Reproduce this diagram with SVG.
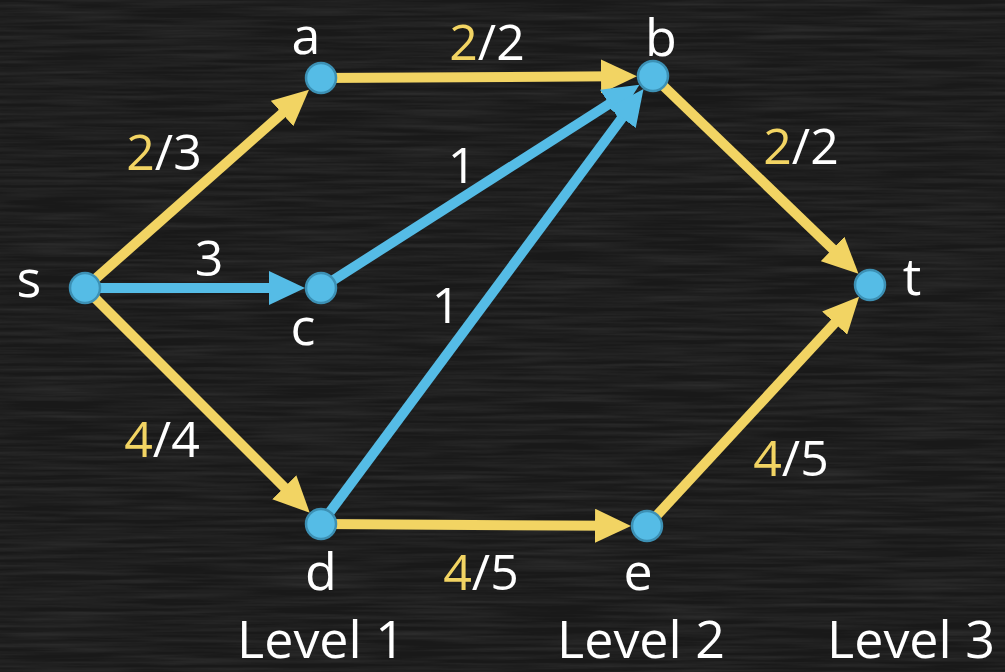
<svg xmlns="http://www.w3.org/2000/svg" width="1005" height="672" viewBox="0 0 1005 672">
  <defs>
    <filter id="chalk" x="0" y="0" width="100%" height="100%">
      <feTurbulence type="fractalNoise" baseFrequency="0.008 0.25" numOctaves="3" seed="7" result="n"/>
      <feColorMatrix in="n" type="matrix" values="0 0 0 0 1  0 0 0 0 1  0 0 0 0 1  0 0 0 0.14 -0.045"/>
    </filter>
    <marker id="arrY" markerUnits="userSpaceOnUse" markerWidth="36" markerHeight="34" refX="16" refY="17" orient="auto">
      <path d="M0,0 L36,17 L0,34 Z" fill="#F2D463"/>
    </marker>
    <marker id="arrB" markerUnits="userSpaceOnUse" markerWidth="36" markerHeight="34" refX="16" refY="17" orient="auto">
      <path d="M0,0 L36,17 L0,34 Z" fill="#55BCE6"/>
    </marker>
    <style>
      .y { stroke: #F2D463; stroke-width: 10; fill: none; marker-end: url(#arrY); }
      .b { stroke: #55BCE6; stroke-width: 10; fill: none; marker-end: url(#arrB); }
      .node { fill: #55BCE6; stroke: #3C90B4; stroke-width: 2.5; }
      text { font-family: "Open Sans", "Noto Sans", "DejaVu Sans", sans-serif; fill: #FFFFFF; font-size: 52px; text-anchor: middle; }
      .lbl { font-size: 50px; }
      .hl { fill: #F2D463; }
      .lvl { font-size: 52px; }
    </style>
  </defs>
  <rect width="1005" height="672" fill="#191919"/>
  <rect width="1005" height="672" filter="url(#chalk)"/>

  <g id="connectors">
    <line class="y" x1="85" y1="288" x2="294" y2="102.9"/>
    <line class="y" x1="321" y1="78" x2="617" y2="76.3"/>
    <line class="b" x1="85" y1="288" x2="285" y2="288"/>
    <line class="b" x1="321" y1="288" x2="622.6" y2="95.4"/>
    <line class="b" x1="321" y1="524" x2="631.6" y2="105"/>
    <line class="y" x1="653" y1="76" x2="844.1" y2="260"/>
    <line class="y" x1="85" y1="288" x2="295.6" y2="498.6"/>
    <line class="y" x1="321" y1="524" x2="611" y2="525.8"/>
    <line class="y" x1="647" y1="526" x2="845.5" y2="311.4"/>
  </g>

  <g id="edge-labels">
    <text class="lbl" x="164" y="170"><tspan class="hl">2</tspan>/3</text>
    <text class="lbl" x="487" y="60"><tspan class="hl">2</tspan>/2</text>
    <text class="lbl" x="462" y="183">1</text>
    <text class="lbl" x="446" y="323">1</text>
    <text class="lbl" x="209" y="276">3</text>
    <text class="lbl" x="801" y="164"><tspan class="hl">2</tspan>/2</text>
    <text class="lbl" x="162" y="457"><tspan class="hl">4</tspan>/4</text>
    <text class="lbl" x="481" y="590"><tspan class="hl">4</tspan>/5</text>
    <text class="lbl" x="791" y="476"><tspan class="hl">4</tspan>/5</text>
  </g>

  <g id="node-s"><circle class="node" cx="85" cy="288" r="15"/><text x="29" y="297">s</text></g>
  <g id="node-a"><circle class="node" cx="321" cy="78" r="15"/><text x="306" y="54">a</text></g>
  <g id="node-b"><circle class="node" cx="653" cy="76" r="15"/><text x="661" y="56">b</text></g>
  <g id="node-c"><circle class="node" cx="321" cy="288" r="15"/><text x="303" y="345">c</text></g>
  <g id="node-t"><circle class="node" cx="870" cy="285" r="15"/><text x="912" y="295">t</text></g>
  <g id="node-d"><circle class="node" cx="321" cy="524" r="15"/><text x="321" y="590">d</text></g>
  <g id="node-e"><circle class="node" cx="647" cy="526" r="15"/><text x="638" y="590">e</text></g>

  <g id="levels">
    <text class="lvl" x="321" y="658">Level 1</text>
    <text class="lvl" x="641" y="658">Level 2</text>
    <text class="lvl" x="911" y="658">Level 3</text>
  </g>
</svg>
